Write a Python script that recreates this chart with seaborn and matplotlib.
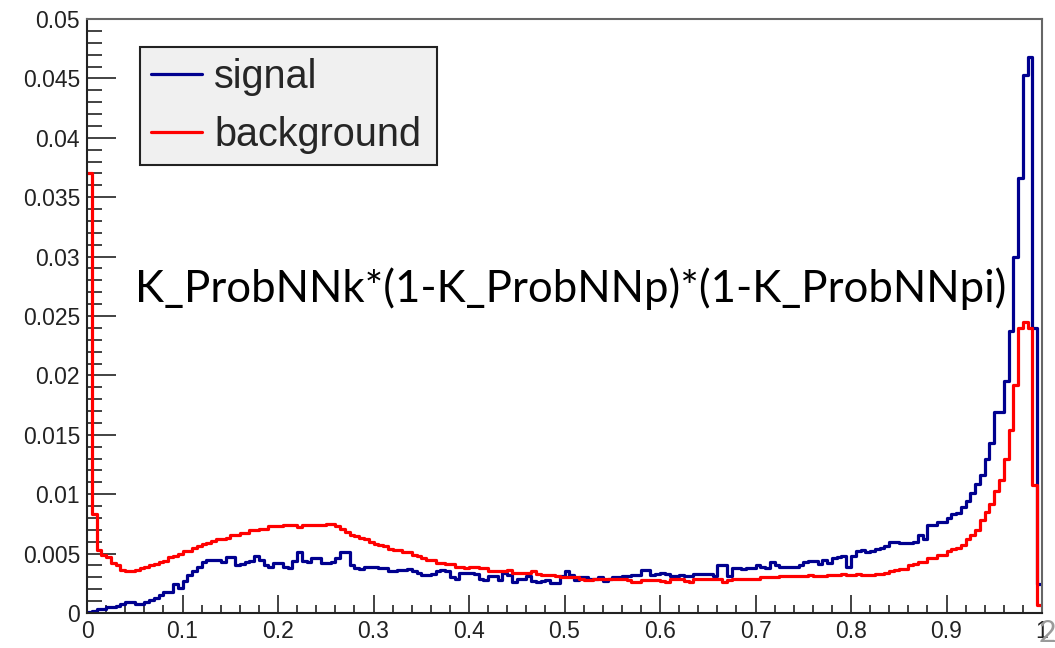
import numpy as np
import pandas as pd
import matplotlib
matplotlib.use("Agg")
import matplotlib.pyplot as plt
import seaborn as sns
from matplotlib.ticker import MultipleLocator, FuncFormatter

# Histogram binning (200 bins on [0, 1])
n_bins = 200
x_min, x_max = 0.0, 1.0

# Normalised bin contents
signal = [
    0.0001, 0.0002, 0.0003, 0.0003, 0.0005, 0.0005, 0.0006, 0.0008, 0.0009, 0.0009,
    0.0008, 0.0008, 0.0009, 0.0011, 0.0013, 0.0015, 0.0018, 0.0018, 0.0024, 0.0021,
    0.0027, 0.0032, 0.0035, 0.0039, 0.0043, 0.0045, 0.0045, 0.0045, 0.0043, 0.0047,
    0.0047, 0.0040, 0.0041, 0.0043, 0.0044, 0.0048, 0.0045, 0.0040, 0.0039, 0.0042,
    0.0042, 0.0039, 0.0038, 0.0044, 0.0051, 0.0044, 0.0043, 0.0046, 0.0046, 0.0042,
    0.0042, 0.0043, 0.0046, 0.0051, 0.0051, 0.0040, 0.0038, 0.0037, 0.0039, 0.0039,
    0.0039, 0.0038, 0.0038, 0.0035, 0.0035, 0.0036, 0.0036, 0.0037, 0.0035, 0.0034,
    0.0032, 0.0032, 0.0033, 0.0035, 0.0036, 0.0035, 0.0030, 0.0029, 0.0034, 0.0034,
    0.0034, 0.0033, 0.0029, 0.0028, 0.0031, 0.0031, 0.0028, 0.0034, 0.0032, 0.0026,
    0.0029, 0.0029, 0.0031, 0.0027, 0.0026, 0.0027, 0.0028, 0.0025, 0.0025, 0.0031,
    0.0035, 0.0032, 0.0028, 0.0030, 0.0030, 0.0029, 0.0029, 0.0030, 0.0027, 0.0029,
    0.0030, 0.0030, 0.0031, 0.0031, 0.0032, 0.0032, 0.0036, 0.0036, 0.0032, 0.0033,
    0.0034, 0.0033, 0.0031, 0.0031, 0.0032, 0.0031, 0.0031, 0.0033, 0.0033, 0.0033,
    0.0033, 0.0031, 0.0040, 0.0040, 0.0031, 0.0038, 0.0038, 0.0037, 0.0038, 0.0038,
    0.0040, 0.0039, 0.0038, 0.0043, 0.0040, 0.0039, 0.0039, 0.0039, 0.0039, 0.0040,
    0.0043, 0.0044, 0.0044, 0.0041, 0.0045, 0.0042, 0.0046, 0.0047, 0.0048, 0.0039,
    0.0048, 0.0052, 0.0053, 0.0051, 0.0052, 0.0054, 0.0055, 0.0056, 0.0060, 0.0060,
    0.0059, 0.0059, 0.0059, 0.0060, 0.0066, 0.0062, 0.0074, 0.0074, 0.0077, 0.0077,
    0.0080, 0.0083, 0.0084, 0.0089, 0.0094, 0.0101, 0.0109, 0.0116, 0.0130, 0.0143,
    0.0169, 0.0169, 0.0195, 0.0237, 0.0300, 0.0366, 0.0453, 0.0468, 0.0240, 0.0024,
]

background = [
    0.0370, 0.0083, 0.0053, 0.0049, 0.0047, 0.0042, 0.0040, 0.0036, 0.0035, 0.0035,
    0.0036, 0.0038, 0.0039, 0.0040, 0.0041, 0.0043, 0.0044, 0.0047, 0.0048, 0.0050,
    0.0052, 0.0052, 0.0055, 0.0056, 0.0058, 0.0059, 0.0061, 0.0062, 0.0062, 0.0063,
    0.0066, 0.0066, 0.0067, 0.0067, 0.0070, 0.0070, 0.0071, 0.0071, 0.0073, 0.0073,
    0.0073, 0.0074, 0.0074, 0.0074, 0.0072, 0.0074, 0.0074, 0.0074, 0.0074, 0.0074,
    0.0075, 0.0075, 0.0073, 0.0071, 0.0068, 0.0066, 0.0065, 0.0063, 0.0062, 0.0060,
    0.0058, 0.0057, 0.0056, 0.0054, 0.0053, 0.0053, 0.0051, 0.0051, 0.0049, 0.0048,
    0.0046, 0.0045, 0.0045, 0.0042, 0.0042, 0.0041, 0.0041, 0.0039, 0.0039, 0.0038,
    0.0039, 0.0039, 0.0038, 0.0038, 0.0035, 0.0035, 0.0035, 0.0035, 0.0036, 0.0034,
    0.0034, 0.0034, 0.0034, 0.0035, 0.0033, 0.0032, 0.0032, 0.0032, 0.0031, 0.0030,
    0.0030, 0.0030, 0.0030, 0.0029, 0.0028, 0.0028, 0.0029, 0.0029, 0.0029, 0.0029,
    0.0029, 0.0029, 0.0029, 0.0028, 0.0026, 0.0026, 0.0028, 0.0028, 0.0028, 0.0028,
    0.0027, 0.0026, 0.0029, 0.0029, 0.0029, 0.0027, 0.0026, 0.0029, 0.0029, 0.0029,
    0.0029, 0.0029, 0.0029, 0.0026, 0.0028, 0.0029, 0.0029, 0.0029, 0.0029, 0.0029,
    0.0029, 0.0030, 0.0030, 0.0030, 0.0030, 0.0031, 0.0031, 0.0031, 0.0031, 0.0031,
    0.0031, 0.0032, 0.0031, 0.0031, 0.0031, 0.0032, 0.0032, 0.0032, 0.0033, 0.0032,
    0.0032, 0.0033, 0.0032, 0.0032, 0.0032, 0.0033, 0.0033, 0.0034, 0.0035, 0.0036,
    0.0037, 0.0037, 0.0040, 0.0041, 0.0043, 0.0043, 0.0046, 0.0046, 0.0049, 0.0049,
    0.0052, 0.0054, 0.0055, 0.0057, 0.0062, 0.0066, 0.0070, 0.0078, 0.0085, 0.0092,
    0.0103, 0.0112, 0.0130, 0.0154, 0.0192, 0.0240, 0.0245, 0.0240, 0.0108, 0.0007,
]

labels = ["signal", "background"]
colors = {"signal": "#00008f", "background": "#ff0000"}
title_text = "K_ProbNNk*(1-K_ProbNNp)*(1-K_ProbNNpi)"
page_number = "2"

edges = np.linspace(x_min, x_max, n_bins + 1)
centers = 0.5 * (edges[:-1] + edges[1:])

df = pd.DataFrame({
    "x": np.concatenate([centers, centers]),
    "w": np.concatenate([signal, background]),
    "sample": ["signal"] * n_bins + ["background"] * n_bins,
})

sns.set_style("ticks")
plt.rcParams["font.family"] = ["Liberation Sans", "DejaVu Sans"]

fig = plt.figure(figsize=(10.55, 6.48), dpi=100)
ax = fig.add_axes([0.0825, 0.054, 0.9052, 0.9167])

for name in labels:
    sns.histplot(data=df[df["sample"] == name], x="x", weights="w",
                 bins=n_bins, binrange=(x_min, x_max),
                 element="step", fill=False, color=colors[name], linewidth=2.3,
                 label=name, ax=ax)

ax.set_xlim(x_min, x_max)
ax.set_ylim(0, 0.05)
ax.set_xlabel("")
ax.set_ylabel("")

# ROOT-like axis ticks
ax.xaxis.set_major_locator(MultipleLocator(0.1))
ax.xaxis.set_minor_locator(MultipleLocator(0.02))
ax.yaxis.set_major_locator(MultipleLocator(0.005))
ax.yaxis.set_minor_locator(MultipleLocator(0.001))
fmt = FuncFormatter(lambda v, p: "%g" % round(v, 4))
ax.xaxis.set_major_formatter(fmt)
ax.yaxis.set_major_formatter(fmt)

ax.tick_params(axis="both", which="both", direction="in", width=1.2, colors="#222222",
               labelsize=16.5, labelcolor="#222222", top=False, right=False)
ax.tick_params(axis="y", which="major", length=21, pad=5)
ax.tick_params(axis="y", which="minor", length=11)
ax.tick_params(axis="x", which="major", length=13, pad=5)
ax.tick_params(axis="x", which="minor", length=6)

for side in ["left", "bottom"]:
    ax.spines[side].set_color("#222222")
    ax.spines[side].set_linewidth(1.5)
for side in ["top", "right"]:
    ax.spines[side].set_color("#666666")
    ax.spines[side].set_linewidth(1.5)

# Legend box
handles = ax.lines[:2]
leg = ax.legend(handles, labels, loc="upper left", bbox_to_anchor=(0.0555, 0.953, 0.311, 0.0),
                mode="expand", fontsize=28.5, frameon=True, fancybox=False, framealpha=1,
                handlelength=1.3, handletextpad=0.3, borderpad=0.27, labelspacing=0.52,
                borderaxespad=0)
leg.get_frame().set_facecolor("#f0f0f0")
leg.get_frame().set_edgecolor("#222222")
leg.get_frame().set_linewidth(1.5)

# Variable name written on the slide
ax.text(0.0503, 0.5236, title_text, transform=ax.transAxes, ha="left", va="baseline",
        fontsize=31.5, family=["Lato", "DejaVu Sans"], color="black")

# slide page number (sits over the last x tick label, as on the slide)
fig.text(1047 / 1055, 1 / 648, page_number, ha="center", va="bottom",
         fontsize=22, family=["Lato", "DejaVu Sans"], color="#9a9a9a")

plt.savefig("out.png", dpi=100)
